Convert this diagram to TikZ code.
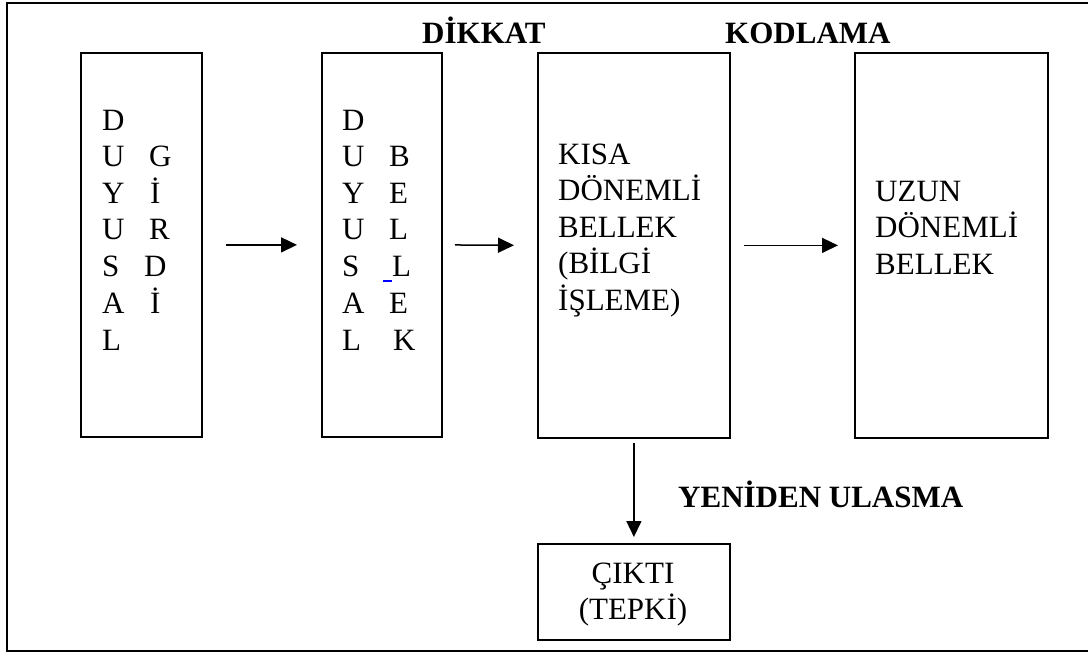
\documentclass[tikz,border=0pt]{standalone}
\usepackage{fontspec}
\setmainfont{Liberation Serif}
\usetikzlibrary{arrows.meta}
\begin{document}
\begin{tikzpicture}[x=1pt,y=-1pt,
  frame/.style={line width=2pt,draw=black},
  box/.style={draw,line width=1.8pt,inner sep=0pt,anchor=north west},
  txt/.style={anchor=base west,inner sep=0pt,font=\fontsize{31}{36.5}\selectfont},
  lbl/.style={anchor=base west,inner sep=0pt,font=\fontsize{31}{36.5}\selectfont\bfseries},
  arr/.style={line width=1.5pt,-{Triangle[length=16pt,width=15pt]}}]
\useasboundingbox (0,0) rectangle (1088,654);
% outer frame (open on the right)
\draw[frame] (1088,3) -- (7,3) -- (7,651) -- (1088,651);
% boxes
\node[box,minimum width=121pt,minimum height=384pt] (b1) at (80,52) {};
\node[box,minimum width=120pt,minimum height=384pt] (b2) at (321,52) {};
\node[box,minimum width=192pt,minimum height=385pt] (b3) at (537,52) {};
\node[box,minimum width=193pt,minimum height=385pt] (b4) at (854,52) {};
\node[box,minimum width=192pt,minimum height=96pt] (b5) at (537,543) {};
% box 1 text
\node[txt] (b1c1) at (102,130) {D};
\node[txt] (b1c2) at (102,166) {U};
\node[txt] (b1c3) at (102,203) {Y};
\node[txt] (b1c4) at (102,239) {U};
\node[txt] (b1c5) at (102,276) {S};
\node[txt] (b1c6) at (102,313) {A};
\node[txt] (b1c7) at (102,350) {L};
\node[txt] (b1d1) at (149,166) {G};
\node[txt] (b1d2) at (150,203) {İ};
\node[txt] (b1d3) at (149,239) {R};
\node[txt] (b1d4) at (144,276) {D};
\node[txt] (b1d5) at (150,313) {İ};
% box 2 text
\node[txt] (b2c1) at (342,130) {D};
\node[txt] (b2c2) at (342,166) {U};
\node[txt] (b2c3) at (342,203) {Y};
\node[txt] (b2c4) at (342,239) {U};
\node[txt] (b2c5) at (342,276) {S};
\node[txt] (b2c6) at (342,313) {A};
\node[txt] (b2c7) at (342,350) {L};
\node[txt] (b2d1) at (389,166) {B};
\node[txt] (b2d2) at (389,203) {E};
\node[txt] (b2d3) at (389,239) {L};
\node[txt] (b2d4) at (392,276) {L};
\node[txt] (b2d5) at (389,313) {E};
\node[txt] (b2d6) at (393,350) {K};
\draw[blue,line width=1.5pt] (383,281) -- (392,281);
% box 3 text
\node[txt,align=left,anchor=north west] (b3t) at (558,143.5)
  {KISA\\DÖNEMLİ\\BELLEK\\(BİLGİ\\İŞLEME)};
% box 4 text
\node[txt,align=left,anchor=north west] (b4t) at (875,180.5)
  {UZUN\\DÖNEMLİ\\BELLEK};
% box 5 text
\node[txt,align=center,anchor=north] (b5t) at (633,562.5)
  {ÇIKTI\\(TEPKİ)};
% labels
\node[lbl] (l1) at (422,43) {DİKKAT};
\node[lbl] (l2) at (725,43) {KODLAMA};
\node[lbl] (l3) at (678,507) {YENİDEN ULASMA};
% arrows
\draw[arr,shorten <=23pt,shorten >=24pt] (b1.east) -- (b2.west);
\draw[arr,shorten <=12pt,shorten >=23pt] (b2.east) -- (b3.west);
\draw[arr,shorten <=13pt,shorten >=16pt] (b3.east) -- (b4.west);
\draw[arr,shorten <=4pt,shorten >=6pt] (b3.south -| b5.north) -- (b5.north);
\end{tikzpicture}
\end{document}
